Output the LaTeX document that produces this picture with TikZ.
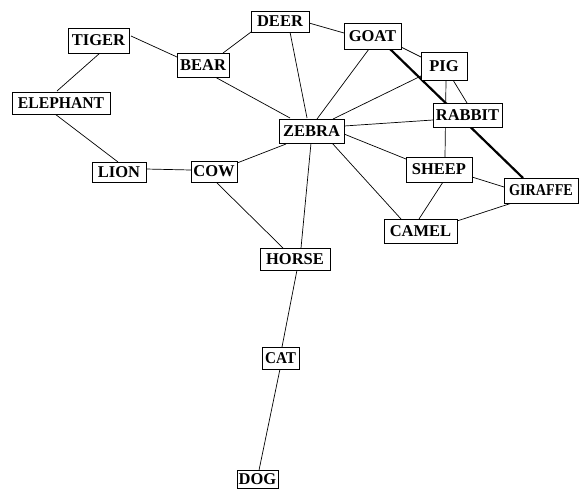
\documentclass[tikz,border=0pt]{standalone}
\usepackage{fontspec}
\setmainfont{Liberation Serif}
\usetikzlibrary{calc}
\pgfdeclarelayer{background}
\pgfsetlayers{background,main}
\tikzset{
  animal/.style={draw=black, line width=0.9pt, fill=white, inner sep=0pt,
    font=\fontsize{16.5}{16.5}\selectfont\bfseries, text=black},
  link/.style={line width=0.7pt, draw=black},
  strong/.style={line width=2.2pt, draw=black}
}
\newcommand{\animalnode}[6]{\node[animal, minimum width=#4, minimum height=#5] (#1) at (#2,#3) {#6};}
\begin{document}
\begin{tikzpicture}[x=1pt,y=-1pt]
\useasboundingbox (0,0) rectangle (585,488);
\animalnode{tiger}{98.5}{40.5}{61pt}{25pt}{TIGER}
\animalnode{bear}{203}{65}{52pt}{24pt}{BEAR}
\animalnode{deer}{280}{21.5}{58pt}{21pt}{DEER}
\animalnode{elephant}{61}{103}{98pt}{22pt}{\scalebox{0.95}[1]{ELEPHANT}}
\animalnode{lion}{119}{172}{54pt}{20pt}{LION}
\animalnode{cow}{214}{171.5}{46pt}{21pt}{COW}
\animalnode{zebra}{311.5}{131}{65pt}{24pt}{ZEBRA}
\animalnode{goat}{372.5}{36}{57pt}{26pt}{GOAT}
\animalnode{pig}{444}{66}{46pt}{28pt}{PIG}
\animalnode{rabbit}{467.5}{115}{69pt}{24pt}{RABBIT}
\animalnode{sheep}{439}{169.5}{66pt}{25pt}{SHEEP}
\animalnode{giraffe}{541}{190.5}{74pt}{25pt}{\scalebox{0.86}[1]{GIRAFFE}}
\animalnode{camel}{420.5}{231}{73pt}{24pt}{CAMEL}
\animalnode{horse}{295}{259}{70pt}{22pt}{HORSE}
\animalnode{cat}{280.5}{358}{37pt}{22pt}{\scalebox{0.92}[1]{CAT}}
\animalnode{dog}{257.5}{479.25}{41pt}{18.5pt}{DOG}
\begin{pgfonlayer}{background}
\draw[link] ($(tiger)+(32.5,-4.5)$) -- ($(bear)+(-26,-8)$);
\draw[link] ($(tiger)+(1.5,12.5)$) -- ($(elephant)+(-4,-12)$);
\draw[link] ($(elephant)+(-6,11)$) -- ($(lion)+(-1,-10)$);
\draw[link] ($(lion)+(27,-3)$) -- ($(cow)+(-23,-1.5)$);
\draw[link] ($(cow)+(23,-8.5)$) -- ($(zebra)+(-25.5,13)$);
\draw[link] ($(bear)+(20,-12)$) -- ($(deer)+(-29,10.5)$);
\draw[link] ($(bear)+(12,12)$) -- ($(zebra)+(-21.5,-13)$);
\draw[link] ($(deer)+(10,10.5)$) -- ($(zebra)+(-4.5,-13)$);
\draw[link] ($(deer)+(29,1.5)$) -- ($(goat)+(-28.5,-3)$);
\draw[link] ($(goat)+(-3.5,13)$) -- ($(zebra)+(5.5,-12)$);
\draw[link] ($(pig)+(-23,10)$) -- ($(zebra)+(21.5,-12)$);
\draw[link] ($(goat)+(28.5,11)$) -- ($(pig)+(-23,-9)$);
\draw[strong] ($(goat)+(17.5,13)$) -- ($(giraffe)+(-18,-12.5)$);
\draw[link] ($(pig)+(2,14)$) -- ($(sheep)+(6,-12.5)$);
\draw[link] ($(pig)+(9,14)$) -- ($(rabbit)+(-0.5,-12)$);
\draw[link] ($(zebra)+(32.5,-5)$) -- ($(rabbit)+(-34.5,5)$);
\draw[link] ($(zebra)+(32.5,3)$) -- ($(sheep)+(-33,-10.5)$);
\draw[link] ($(zebra)+(20.5,12)$) -- ($(camel)+(-19.5,-12)$);
\draw[link] ($(sheep)+(4,12.5)$) -- ($(camel)+(-1.5,-12)$);
\draw[link] ($(sheep)+(33,7.5)$) -- ($(giraffe)+(-37,-3.5)$);
\draw[link] ($(camel)+(36.5,-10)$) -- ($(giraffe)+(-29,12.5)$);
\draw[link] ($(zebra)+(-0.5,12)$) -- ($(horse)+(6,-11)$);
\draw[link] ($(cow)+(2,10.5)$) -- ($(horse)+(-12,-11)$);
\draw[link] ($(horse)+(2,11)$) -- ($(cat)+(1.5,-11)$);
\draw[link] ($(cat)+(-0.5,11)$) -- ($(dog)+(1.5,-9)$);
\end{pgfonlayer}
\end{tikzpicture}
\end{document}
